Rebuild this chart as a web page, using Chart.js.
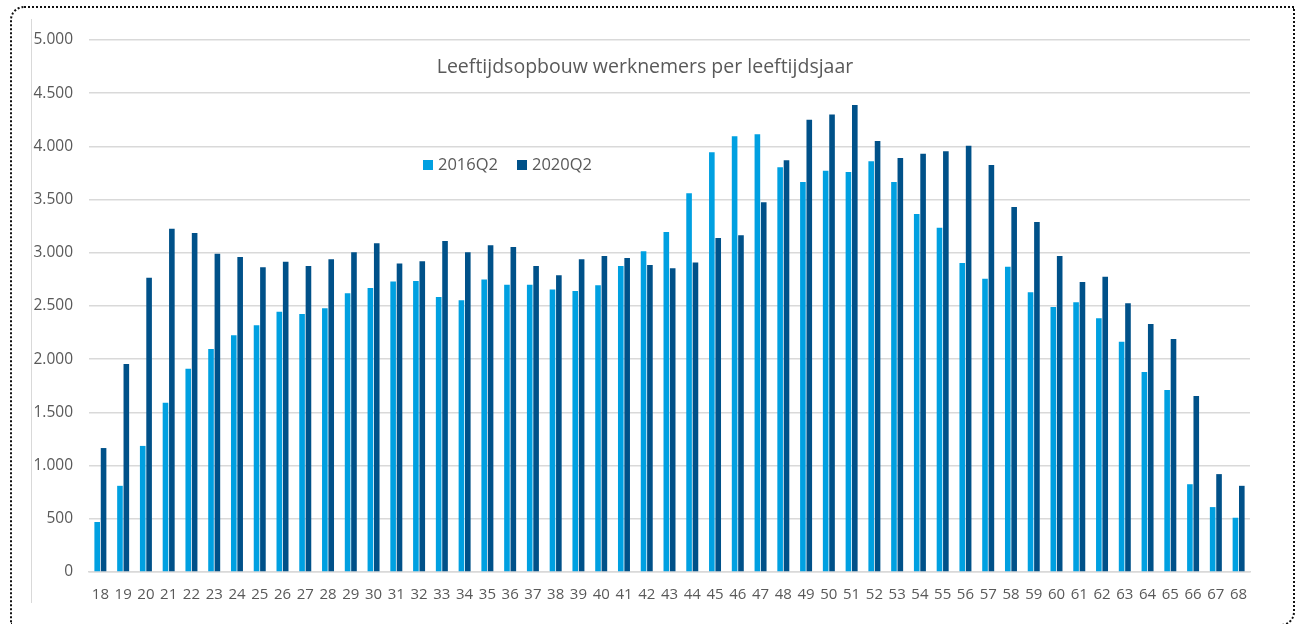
<!DOCTYPE html>
<html>
<head>
<meta charset="utf-8">
<script src="https://cdn.jsdelivr.net/npm/chart.js@4/dist/chart.umd.min.js"></script>
<style>
	html, body { margin: 0; padding: 0; background: #fff; }
	#wrap { position: relative; width: 1298px; height: 624px; overflow: hidden; }
	#canvas { position: absolute; left: 0; top: 0; }
	#frame {
		position: absolute; left: 10px; top: 6px; width: 1281px; height: 616px;
		border: 2px dotted #111; border-radius: 14px 0 14px 0; pointer-events: none;
	}
	#edge { position: absolute; left: 31px; top: 19px; width: 1px; height: 584px; background: #d9d9d9; }
</style>
</head>
<body>
<div id="wrap">
	<div id="edge"></div>
	<canvas id="canvas" width="1298" height="624"></canvas>
	<div id="frame"></div>
</div>
<script>
'use strict';

// leeftijden 18 t/m 68
var ages = [18,19,20,21,22,23,24,25,26,27,28,29,30,31,32,33,34,35,36,37,38,39,40,41,42,43,
	44,45,46,47,48,49,50,51,52,53,54,55,56,57,58,59,60,61,62,63,64,65,66,67,68];

var werknemers2016 = [470,810,1185,1590,1910,2095,2225,2320,2445,2425,2480,2620,2670,2730,2735,2585,
	2555,2750,2700,2700,2655,2640,2695,2875,3015,3195,3560,3945,4095,4115,3805,3665,3770,3760,
	3860,3665,3365,3235,2905,2755,2870,2630,2490,2535,2385,2165,1880,1710,825,610,510];

var werknemers2020 = [1165,1955,2765,3225,3185,2990,2960,2865,2915,2875,2940,3005,3090,2900,2920,3110,
	3005,3070,3055,2875,2790,2940,2970,2950,2885,2855,2910,3140,3165,3475,3870,4250,4300,4390,
	4050,3890,3930,3955,4005,3825,3430,3290,2970,2725,2775,2525,2330,2190,1655,920,810];

var seriesLabels = ['2016Q2', '2020Q2'];
var yTicks = [0,500,1000,1500,2000,2500,3000,3500,4000,4500,5000];
var chartTitle = 'Leeftijdsopbouw werknemers per leeftijdsjaar';

var lightBlue = '#00A0E1';
var darkBlue = '#005189';
var textGrey = '#595959';
var fontName = '"Open Sans", "Noto Sans", sans-serif';

function dots(v) { // 5000 -> 5.000
	return v.toString().replace(/\B(?=(\d{3})+(?!\d))/g, '.');
}

// titel en legenda staan binnen het plotvlak, zoals in het origineel
var overlayPlugin = {
	id: 'overlay',
	afterDraw: function(chart) {
		var ctx = chart.ctx;
		ctx.save();
		ctx.fillStyle = textGrey;
		ctx.font = '19.5px ' + fontName;
		ctx.textAlign = 'center';
		ctx.textBaseline = 'middle';
		ctx.fillText(chartTitle, 645, 67);

		ctx.font = '16.5px ' + fontName;
		ctx.textAlign = 'left';
		var x = 423;
		chart.data.datasets.forEach(function(ds) {
			ctx.fillStyle = ds.backgroundColor;
			ctx.fillRect(x, 160, 10, 10);
			ctx.fillStyle = textGrey;
			ctx.fillText(ds.label, x + 15, 165);
			x += 15 + ctx.measureText(ds.label).width + 19;
		});
		ctx.restore();
	}
};

window.onload = function() {
	var ctx = document.getElementById('canvas').getContext('2d');
	window.myBar = new Chart(ctx, {
		type: 'bar',
		data: {
			labels: ages,
			datasets: [{
				label: seriesLabels[0],
				backgroundColor: lightBlue,
				data: werknemers2016,
				categoryPercentage: 0.56,
				barPercentage: 0.88
			}, {
				label: seriesLabels[1],
				backgroundColor: darkBlue,
				data: werknemers2020,
				categoryPercentage: 0.56,
				barPercentage: 0.88
			}]
		},
		plugins: [overlayPlugin],
		options: {
			responsive: false,
			animation: false,
			layout: { padding: { left: 0, right: 48, top: 40, bottom: 0 } },
			plugins: {
				legend: { display: false },
				title: { display: false },
				tooltip: { enabled: false }
			},
			scales: {
				x: {
					grid: { display: false, drawTicks: false },
					border: { display: true, color: '#d9d9d9', width: 1.5 },
					ticks: { color: textGrey, font: { family: fontName, size: 15 }, padding: 14, maxRotation: 0, autoSkip: false },
					afterFit: function(scale) { scale.height = 52; }
				},
				y: {
					min: 0,
					max: 5000,
					afterBuildTicks: function(scale) {
						scale.ticks = yTicks.map(function(v) { return { value: v }; });
					},
					grid: { color: '#d9d9d9', lineWidth: 1.5, drawTicks: false },
					border: { display: false },
					ticks: {
						color: textGrey,
						font: { family: fontName, size: 15.5 },
						padding: 16,
						callback: function(v) { return dots(v); }
					},
					afterFit: function(scale) { scale.width = 89; }
				}
			}
		}
	});
};
</script>
</body>
</html>
